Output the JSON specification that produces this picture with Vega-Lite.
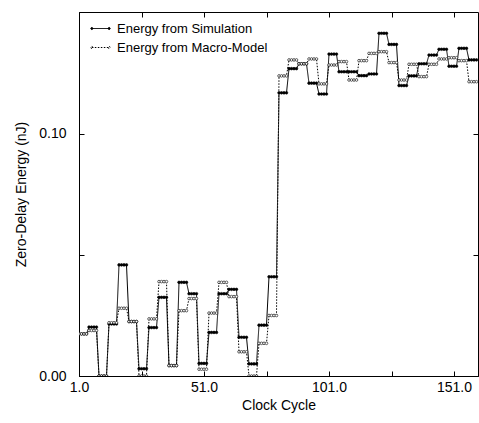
{
  "$schema": "https://vega.github.io/schema/vega-lite/v6.json",
  "width": 399,
  "height": 364,
  "autosize": "none",
  "padding": {"left": 79, "top": 12, "right": 1, "bottom": 47},
  "background": "white",
  "config": {
    "font": "Liberation Sans",
    "view": {"stroke": "black", "strokeWidth": 1},
    "axis": {"labelFont": "Liberation Sans", "titleFont": "Liberation Sans", "labelFontSize": 14, "titleFontSize": 14, "titleFontWeight": "normal", "labelColor": "black", "titleColor": "black", "domainColor": "black", "tickColor": "black", "grid": false}
  },
  "data": {"values": [
    {"c":1,"s":0.0174,"m":0.0174},{"c":2,"s":0.0174,"m":0.0174},{"c":3,"s":0.0174,"m":0.0174},{"c":4,"s":0.0174,"m":0.0174},
    {"c":5,"s":0.0202,"m":0.0188},{"c":6,"s":0.0202,"m":0.0188},{"c":7,"s":0.0202,"m":0.0188},{"c":8,"s":0.0202,"m":0.0188},
    {"c":9,"s":0,"m":0},{"c":10,"s":0,"m":0},{"c":11,"s":0,"m":0},{"c":12,"s":0,"m":0},
    {"c":13,"s":0.0215,"m":0.022},{"c":14,"s":0.0215,"m":0.022},{"c":15,"s":0.0215,"m":0.022},{"c":16,"s":0.0215,"m":0.022},
    {"c":17,"s":0.0459,"m":0.028},{"c":18,"s":0.0459,"m":0.028},{"c":19,"s":0.0459,"m":0.028},{"c":20,"s":0.0459,"m":0.028},
    {"c":21,"s":0.0225,"m":0.0225},{"c":22,"s":0.0225,"m":0.0225},{"c":23,"s":0.0225,"m":0.0225},{"c":24,"s":0.0225,"m":0.0225},
    {"c":25,"s":0.003,"m":0},{"c":26,"s":0.003,"m":0},{"c":27,"s":0.003,"m":0},{"c":28,"s":0.003,"m":0},
    {"c":29,"s":0.02,"m":0.0236},{"c":30,"s":0.02,"m":0.0236},{"c":31,"s":0.02,"m":0.0236},{"c":32,"s":0.02,"m":0.0236},
    {"c":33,"s":0.0325,"m":0.039},{"c":34,"s":0.0325,"m":0.039},{"c":35,"s":0.0325,"m":0.039},{"c":36,"s":0.0325,"m":0.039},
    {"c":37,"s":0.0043,"m":0.0043},{"c":38,"s":0.0043,"m":0.0043},{"c":39,"s":0.0043,"m":0.0043},{"c":40,"s":0.0043,"m":0.0043},
    {"c":41,"s":0.0387,"m":0.027},{"c":42,"s":0.0387,"m":0.027},{"c":43,"s":0.0387,"m":0.027},{"c":44,"s":0.0387,"m":0.027},
    {"c":45,"s":0.034,"m":0.032},{"c":46,"s":0.034,"m":0.032},{"c":47,"s":0.034,"m":0.032},{"c":48,"s":0.034,"m":0.032},
    {"c":49,"s":0.0052,"m":0.0028},{"c":50,"s":0.0052,"m":0.0028},{"c":51,"s":0.0052,"m":0.0028},{"c":52,"s":0.0052,"m":0.0028},
    {"c":53,"s":0.018,"m":0.026},{"c":54,"s":0.018,"m":0.026},{"c":55,"s":0.018,"m":0.026},{"c":56,"s":0.018,"m":0.026},
    {"c":57,"s":0.034,"m":0.0387},{"c":58,"s":0.034,"m":0.0387},{"c":59,"s":0.034,"m":0.0387},{"c":60,"s":0.034,"m":0.0387},
    {"c":61,"s":0.0358,"m":0.0328},{"c":62,"s":0.0358,"m":0.0328},{"c":63,"s":0.0358,"m":0.0328},{"c":64,"s":0.0358,"m":0.0328},
    {"c":65,"s":0.016,"m":0.01},{"c":66,"s":0.016,"m":0.01},{"c":67,"s":0.016,"m":0.01},{"c":68,"s":0.016,"m":0.01},
    {"c":69,"s":0.005,"m":0},{"c":70,"s":0.005,"m":0},{"c":71,"s":0.005,"m":0},{"c":72,"s":0.005,"m":0},
    {"c":73,"s":0.021,"m":0.0135},{"c":74,"s":0.021,"m":0.0135},{"c":75,"s":0.021,"m":0.0135},{"c":76,"s":0.021,"m":0.0135},
    {"c":77,"s":0.041,"m":0.025},{"c":78,"s":0.041,"m":0.025},{"c":79,"s":0.041,"m":0.025},{"c":80,"s":0.041,"m":0.025},
    {"c":81,"s":0.117,"m":0.124},{"c":82,"s":0.117,"m":0.124},{"c":83,"s":0.117,"m":0.124},{"c":84,"s":0.117,"m":0.124},
    {"c":85,"s":0.127,"m":0.1306},{"c":86,"s":0.127,"m":0.1306},{"c":87,"s":0.127,"m":0.1306},{"c":88,"s":0.127,"m":0.1306},
    {"c":89,"s":0.129,"m":0.129},{"c":90,"s":0.129,"m":0.129},{"c":91,"s":0.129,"m":0.129},{"c":92,"s":0.129,"m":0.129},
    {"c":93,"s":0.121,"m":0.131},{"c":94,"s":0.121,"m":0.131},{"c":95,"s":0.121,"m":0.131},{"c":96,"s":0.121,"m":0.131},
    {"c":97,"s":0.1165,"m":0.1207},{"c":98,"s":0.1165,"m":0.1207},{"c":99,"s":0.1165,"m":0.1207},{"c":100,"s":0.1165,"m":0.1207},
    {"c":101,"s":0.133,"m":0.1285},{"c":102,"s":0.133,"m":0.1285},{"c":103,"s":0.133,"m":0.1285},{"c":104,"s":0.133,"m":0.1285},
    {"c":105,"s":0.1257,"m":0.1299},{"c":106,"s":0.1257,"m":0.1299},{"c":107,"s":0.1257,"m":0.1299},{"c":108,"s":0.1257,"m":0.1299},
    {"c":109,"s":0.1257,"m":0.1223},{"c":110,"s":0.1257,"m":0.1223},{"c":111,"s":0.1257,"m":0.1223},{"c":112,"s":0.1257,"m":0.1223},
    {"c":113,"s":0.1241,"m":0.1303},{"c":114,"s":0.1241,"m":0.1303},{"c":115,"s":0.1241,"m":0.1303},{"c":116,"s":0.1241,"m":0.1303},
    {"c":117,"s":0.1248,"m":0.1333},{"c":118,"s":0.1248,"m":0.1333},{"c":119,"s":0.1248,"m":0.1333},{"c":120,"s":0.1248,"m":0.1333},
    {"c":121,"s":0.1416,"m":0.134},{"c":122,"s":0.1416,"m":0.134},{"c":123,"s":0.1416,"m":0.134},{"c":124,"s":0.1416,"m":0.134},
    {"c":125,"s":0.137,"m":0.1295},{"c":126,"s":0.137,"m":0.1295},{"c":127,"s":0.137,"m":0.1295},{"c":128,"s":0.137,"m":0.1295},
    {"c":129,"s":0.12,"m":0.1223},{"c":130,"s":0.12,"m":0.1223},{"c":131,"s":0.12,"m":0.1223},{"c":132,"s":0.12,"m":0.1223},
    {"c":133,"s":0.124,"m":0.1288},{"c":134,"s":0.124,"m":0.1288},{"c":135,"s":0.124,"m":0.1288},{"c":136,"s":0.124,"m":0.1288},
    {"c":137,"s":0.129,"m":0.1237},{"c":138,"s":0.129,"m":0.1237},{"c":139,"s":0.129,"m":0.1237},{"c":140,"s":0.129,"m":0.1237},
    {"c":141,"s":0.1326,"m":0.1288},{"c":142,"s":0.1326,"m":0.1288},{"c":143,"s":0.1326,"m":0.1288},{"c":144,"s":0.1326,"m":0.1288},
    {"c":145,"s":0.135,"m":0.131},{"c":146,"s":0.135,"m":0.131},{"c":147,"s":0.135,"m":0.131},{"c":148,"s":0.135,"m":0.131},
    {"c":149,"s":0.128,"m":0.1315},{"c":150,"s":0.128,"m":0.1315},{"c":151,"s":0.128,"m":0.1315},{"c":152,"s":0.128,"m":0.1315},
    {"c":153,"s":0.1354,"m":0.1303},{"c":154,"s":0.1354,"m":0.1303},{"c":155,"s":0.1354,"m":0.1303},{"c":156,"s":0.1354,"m":0.1303},
    {"c":157,"s":0.1306,"m":0.1216},{"c":158,"s":0.1306,"m":0.1216},{"c":159,"s":0.1306,"m":0.1216},{"c":160,"s":0.1306,"m":0.1216}
  ]},
  "transform": [{"fold": ["s", "m"], "as": ["series", "v"]}],
  "resolve": {"axis": {"x": "independent", "y": "independent"}},
  "layer": [
    {
      "mark": {"type": "line", "stroke": "black", "strokeWidth": 1, "clip": true},
      "encoding": {
        "x": {"field": "c", "type": "quantitative", "scale": {"domain": [1, 160.6], "nice": false, "zero": false},
          "axis": {"orient": "bottom", "title": "Clock Cycle", "values": [1, 26, 51, 76, 101, 126, 151], "labelExpr": "(datum.value - 1) % 50 == 0 ? format(datum.value, '.1f') : ''", "tickSize": -5, "labelPadding": 9, "titlePadding": 4, "labelFlush": false}},
        "y": {"field": "v", "type": "quantitative", "scale": {"domain": [0, 0.1504], "nice": false},
          "axis": {"orient": "left", "title": "Zero-Delay Energy (nJ)", "values": [0, 0.05, 0.1], "labelExpr": "datum.value == 0.05 ? '' : format(datum.value, '.2f')", "tickSize": -5, "labelPadding": 18, "titlePadding": 10, "labelFlush": false}},
        "strokeDash": {"field": "series", "type": "nominal", "scale": {"domain": ["s", "m"], "range": [[1, 0], [1.5, 1.5]]},
          "legend": {"title": null, "orient": "none", "legendX": 12, "legendY": 7, "labelExpr": "datum.label == 's' ? 'Energy from Simulation' : 'Energy from Macro-Model'", "labelFontSize": 13, "labelFont": "Liberation Sans", "labelColor": "black", "symbolType": "M-1,0H1M-1.12,0a0.12,0.12 0 1,0 0.24,0a0.12,0.12 0 1,0 -0.24,0M0.88,0a0.12,0.12 0 1,0 0.24,0a0.12,0.12 0 1,0 -0.24,0", "symbolSize": 300, "symbolStrokeColor": "black", "symbolFillColor": "black", "symbolStrokeWidth": 1, "rowPadding": 2, "labelOffset": 7}}
      }
    },
    {
      "mark": {"type": "point", "filled": true, "stroke": "black", "strokeWidth": 0.6, "size": 7, "opacity": 1, "clip": true},
      "encoding": {
        "x": {"field": "c", "type": "quantitative", "scale": {"domain": [1, 160.6], "nice": false, "zero": false},
          "axis": {"orient": "top", "title": null, "values": [1, 26, 51, 76, 101, 126, 151], "labels": false, "tickSize": -5, "domain": false}},
        "y": {"field": "v", "type": "quantitative", "scale": {"domain": [0, 0.1504], "nice": false},
          "axis": {"orient": "right", "title": null, "values": [0, 0.05, 0.1], "labels": false, "tickSize": -5, "domain": false}},
        "fill": {"field": "series", "type": "nominal", "scale": {"domain": ["s", "m"], "range": ["black", "white"]}, "legend": null}
      }
    }
  ]
}
